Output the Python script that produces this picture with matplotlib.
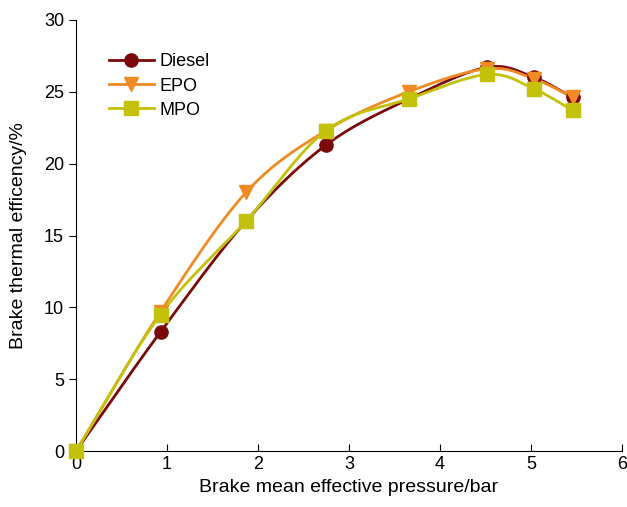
import numpy as np
import matplotlib.pyplot as plt

bmep = [0, 0.93, 1.87, 2.75, 3.66, 4.52, 5.03, 5.46]
diesel = [0, 8.3, 16.0, 21.3, 24.5, 26.7, 26.0, 24.6]
epo = [0, 9.7, 18.0, 22.3, 25.0, 26.6, 25.9, 24.6]
mpo = [0, 9.5, 16.0, 22.3, 24.5, 26.2, 25.2, 23.7]


def smooth(x, y, n=30):
    # catmull-rom through the points
    x = np.asarray(x, float)
    y = np.asarray(y, float)
    px = np.concatenate([[2 * x[0] - x[1]], x, [2 * x[-1] - x[-2]]])
    py = np.concatenate([[2 * y[0] - y[1]], y, [2 * y[-1] - y[-2]]])
    xs, ys = [], []
    t = np.linspace(0, 1, n)
    for i in range(1, len(px) - 2):
        for p, out in ((px, xs), (py, ys)):
            p0, p1, p2, p3 = p[i - 1], p[i], p[i + 1], p[i + 2]
            out.extend(0.5 * (2 * p1 + (-p0 + p2) * t
                              + (2 * p0 - 5 * p1 + 4 * p2 - p3) * t ** 2
                              + (-p0 + 3 * p1 - 3 * p2 + p3) * t ** 3))
    return xs, ys


plt.rcParams['font.family'] = ['Liberation Sans', 'DejaVu Sans']
fig = plt.figure(figsize=(6.27, 5.07), dpi=100)
ax = fig.add_axes([0.121, 0.110, 0.871, 0.851])

series = [('Diesel', diesel, '#7a0a0a', 'o'),
          ('EPO', epo, '#f08a24', 'v'),
          ('MPO', mpo, '#c3c10a', 's')]
for name, vals, col, mk in series:
    sx, sy = smooth(bmep, vals)
    ax.plot(sx, sy, color=col, lw=2, zorder=2)
    ax.plot(bmep, vals, ls='none', marker=mk, color=col, ms=9.5, zorder=3,
            clip_on=False)
    ax.plot([], [], color=col, lw=2, marker=mk, ms=9.5, label=name)

ax.set_xlim(0, 6)
ax.set_ylim(0, 30)
ax.set_xticks(range(7))
ax.set_yticks(range(0, 31, 5))
ax.spines['top'].set_visible(False)
ax.spines['right'].set_visible(False)
ax.tick_params(axis='x', direction='in', labelsize=13, length=5)
ax.tick_params(axis='y', direction='out', labelsize=13, length=5)
ax.set_xlabel('Brake mean effective pressure/bar', fontsize=14, labelpad=4)
ax.set_ylabel('Brake thermal efficency/%', fontsize=14, labelpad=12)
ax.legend(loc='upper left', bbox_to_anchor=(0.03, 0.96), frameon=False,
          fontsize=13, handlelength=2.5, labelspacing=0.4, handletextpad=0.3)
fig.savefig('out.png')
